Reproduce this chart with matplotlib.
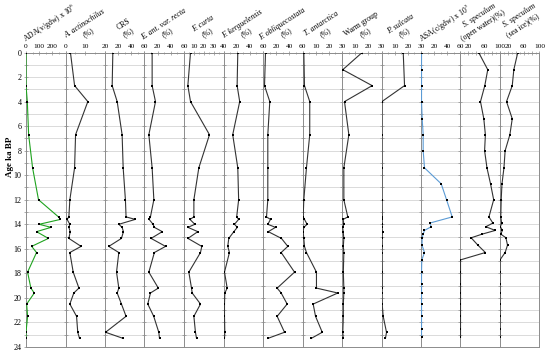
import matplotlib.pyplot as plt
from matplotlib.ticker import MultipleLocator, FixedLocator, FixedFormatter

plt.rcParams['font.family'] = ['Liberation Serif', 'DejaVu Serif']
plt.rcParams['mathtext.fontset'] = 'stix'

# sample ages (ka BP) of the diatom counts
age = [0, 2.7, 4.0, 6.7, 9.4, 12.0, 13.4, 13.6, 14.0, 14.25, 14.6, 15.15,
       15.8, 16.3, 17.9, 19.2, 19.6, 20.5, 21.5, 22.8, 23.3]
# warm group has one extra sample near 1.4 ka
age_warm = [0, 1.4] + age[1:]
# ASA and S. speculum samples
age_ss = [0, 1.4, 2.7, 4.0, 5.4, 6.7, 8.0, 9.4, 10.7, 12.0, 13.4, 13.9, 14.2,
          14.5, 14.8, 15.1, 15.7, 16.3, 16.9, 17.9, 18.9, 19.6, 20.5, 21.5, 22.5, 23.2]

ada = [0, 0, 10, 20, 50, 95, 247, 262, 100, 190, 80, 170, 43, 80, 12, 37, 63, 5, 12, 0, 0]
a_act = [2.5, 4.6, 11.3, 5.1, 4.6, 2.2, 1.7, 0.8, 2.2, 1.7, 2.4, 1.7, 7.9, 2.2, 3.9, 6.8,
         4.2, 2.2, 5.6, 6.2, 7.1]
crs = [11.9, 10.9, 18.5, 26, 27.6, 31, 32, 46, 21, 26, 28, 25, 5.8, 21, 17.5, 21, 18.5,
       25, 32, 0.8, 27.6]
e_ant = [11.6, 11.6, 16.7, 6.6, 11.6, 14.2, 9, 7, 13, 15, 27, 10, 32, 15, 6.6, 21, 9, 5,
         14, 21.7, 22.8]
f_curta = [6.6, 3.9, 6.6, 25.8, 15, 10, 10, 6, 11, 4, 14, 4, 18, 16.7, 4.9, 7.6, 8.3,
           16.7, 10, 11.6, 12.7]
f_kerg = [21.7, 20.7, 24.6, 14, 21.7, 23, 20, 23, 16.7, 21, 15.7, 8, 6.5, 9, 1.5, 5.6, 2,
          1.5, 1.5, 2, 1.5]
f_obliq = [3.8, 2.3, 10.3, 7.3, 7.3, 7.3, 5.3, 11.4, 7.3, 19, 8, 28, 37.7, 27.6, 47.9,
           21.5, 27.6, 36.7, 21.5, 32.7, 7.3]
t_ant = [1, 1.5, 5.5, 5.5, 3, 1, 0.5, 1.5, 3.5, 1, 0.5, 1, 1.5, 3, 10.6, 10.6, 26.8, 8.1,
         9.9, 15, 6.6]
warm = [15.3, 0.6, 22.9, 1.9, 5.2, 1.4, 1.4, 4.4, 0.9, 1.4, 0.5, 0.9, 1.4, 1, 1.4, 1, 1.4,
        1.4, 1, 1, 0.6, 0.9]
p_sulc = [16.5, 17.5, 0.3, 0.3, 0.3, 0.3, 0.5, 0.3, 0.5, 0.3, 0.8, 0.3, 0.5, 0.3, 0.5, 0.5,
          0.3, 0.5, 1.3, 3.8, 3]
asa = [0.8, 0.8, 0.8, 0.8, 1.8, 3.3, 3.3, 5.3, 30.7, 38.8, 47.4, 13.4, 15.5, 5.3, 3.3, 1.8,
       1.5, 5.3, 1.2, 0.8, 0.8, 0.8, 0.8, 0.8, 0.8, 0.8]
ss_open = [46, 69, 61.5, 50.6, 59, 63, 61, 67, 76, 84, 72, 82, 64, 88, 55, 27, 44, 63, 0,
           0, 0, 0, 0, 0, 0, 0]
ss_ice = [45, 35, 31, 16.5, 31, 25, 13, 10, 5, 3, 2, 4, 1, 6, 2, 15, 19, 13, 0, 0, 0, 0,
          0, 0, 0, 0]

# (ages, values, xmax, tick step, labelled ticks, line colour, title line 1, italic, line 2)
panels = [
    (age, ada, 300, 100, [0, 100, 200], '#1fa31f', r'ADA(v/gdw) x 10$^{6}$', False, None),
    (age, a_act, 20, 10, [0, 10, 20], '#333333', 'A. actinochilus', True, '(%)'),
    (age, crs, 60, 20, [20, 40, 60], '#333333', 'CRS', False, '(%)'),
    (age, e_ant, 60, 20, [20, 40, 60], '#333333', 'E. ant. var. recta', True, '(%)'),
    (age, f_curta, 40, 10, [10, 20, 30, 40], '#333333', 'F. curta', True, '(%)'),
    (age, f_kerg, 60, 20, [20, 40, 60], '#333333', 'F. kerguelensis', True, '(%)'),
    (age, f_obliq, 60, 20, [20, 40, 60], '#333333', 'F. obliquecostata', True, '(%)'),
    (age, t_ant, 30, 10, [10, 20, 30], '#333333', 'T. antarctica', True, '(%)'),
    (age_warm, warm, 30, 10, [10, 20, 30], '#333333', 'Warm group', False, '(%)'),
    (age, p_sulc, 30, 10, [10, 20, 30], '#333333', 'P. sulcata', True, '(%)'),
    (age_ss, asa, 60, 20, [20, 40, 60], '#5b9bd5', r'ASA(c/gdw) x 10$^{5}$', False, None),
    (age_ss, ss_open, 100, 20, [20, 60, 100], '#333333', 'S. speculum', True, '(open water)(%)'),
    (age_ss, ss_ice, 100, 20, [20, 60, 100], '#333333', 'S. speculum', True, '(sea ice)(%)'),
]

W, H = 550, 355
fig, axes = plt.subplots(1, len(panels), sharey=True, figsize=(W / 100, H / 100), dpi=100,
                         gridspec_kw=dict(wspace=0))
fig.subplots_adjust(left=26 / W, right=539.5 / W, top=1 - 52.5 / H, bottom=1 - 347 / H)

spine_col = '#8c8c8c'
for i, (ax, p) in enumerate(zip(axes, panels)):
    ages, vals, xmax, step, labelled, col, t1, ital, t2 = p
    ax.plot(vals, ages, color=col, lw=0.8, zorder=3)
    ax.plot(vals, ages, 's', color='black', ms=1.5, mew=0, zorder=4)
    ax.set_xlim(0, xmax)
    ax.set_ylim(24, 0)

    ax.yaxis.set_major_locator(MultipleLocator(2))
    ax.yaxis.set_minor_locator(MultipleLocator(1))
    ax.grid(axis='y', which='both', color='#d4d4d4', lw=0.6, zorder=0)
    ax.set_axisbelow(True)

    ticks = list(range(0, xmax + 1, step))
    ax.xaxis.set_major_locator(FixedLocator(ticks))
    ax.xaxis.set_major_formatter(FixedFormatter([str(t) if t in labelled else '' for t in ticks]))
    ax.xaxis.set_minor_locator(MultipleLocator(step / 2))
    ax.tick_params(axis='x', which='both', top=True, bottom=False, labeltop=True,
                   labelbottom=False, direction='inout', color=spine_col, width=0.5)
    ax.tick_params(axis='x', which='major', length=3, labelsize=5.3, pad=1)
    ax.tick_params(axis='x', which='minor', length=1.5)
    ax.tick_params(axis='y', which='both', direction='inout', color=spine_col, width=0.5,
                   length=2.5, labelsize=5.8, pad=2)
    if i > 0:
        ax.tick_params(axis='y', which='both', labelleft=False)

    for s in ['left', 'top', 'bottom']:
        ax.spines[s].set_color(spine_col)
        ax.spines[s].set_linewidth(0.7)
    ax.spines['right'].set_visible(i == len(panels) - 1)
    ax.spines['right'].set_color(spine_col)
    ax.spines['right'].set_linewidth(0.7)

    # rotated column headings
    pl = ax.get_position().x0 * W
    style = 'italic' if ital else 'normal'
    if t2 is None:
        fig.text((pl + 24) / W, 1 - 23.5 / H, t1, rotation=33, rotation_mode='anchor',
                 ha='center', va='center', fontsize=5.6, fontstyle=style)
    else:
        y1, y2 = (15.5, 25.5) if t1 == 'S. speculum' else (24, 33)
        fig.text((pl + 19) / W, 1 - y1 / H, t1, rotation=33, rotation_mode='anchor',
                 ha='center', va='center', fontsize=5.6, fontstyle=style)
        fig.text((pl + 23) / W, 1 - y2 / H, t2, rotation=33, rotation_mode='anchor',
                 ha='center', va='center', fontsize=5.6)

fig.text(10 / W, 1 - 157 / H, 'Age ka BP', rotation=90, ha='center', va='center',
         fontsize=6.5, fontweight='bold')

fig.savefig('out.png', dpi=100)
